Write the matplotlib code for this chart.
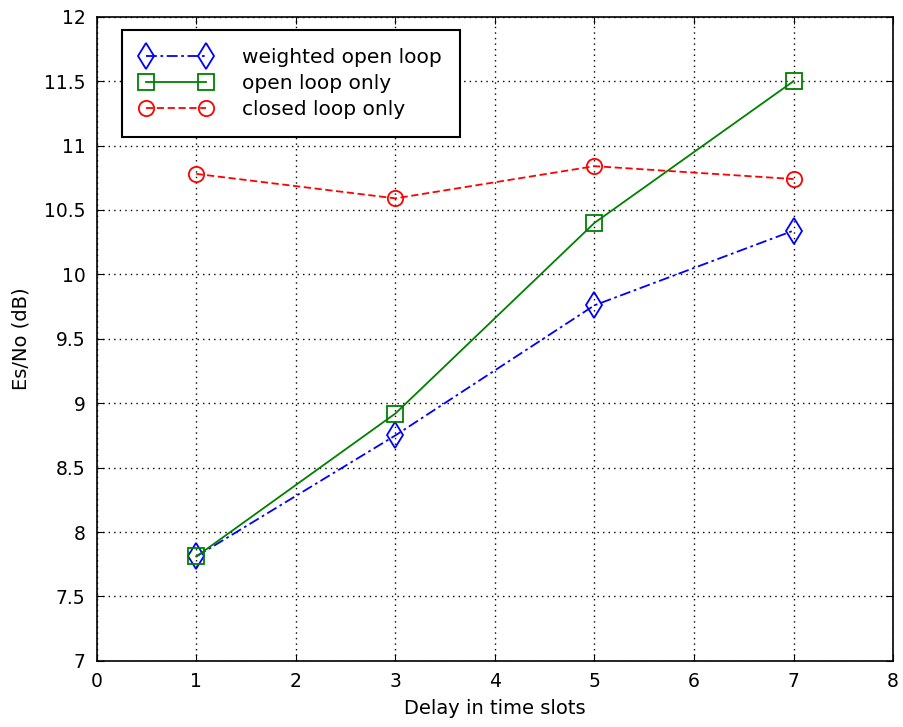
import numpy as np
import matplotlib.pyplot as plt

plt.rcParams['font.family'] = ['DejaVu Sans']

delay = [1, 3, 5, 7]
weighted_open = [7.81, 8.75, 9.76, 10.34]
open_only = [7.81, 8.92, 10.40, 11.50]
closed_only = [10.78, 10.59, 10.84, 10.74]

fig = plt.figure(figsize=(9.04, 7.27), dpi=100)
ax = fig.add_axes([0.107, 0.091, 0.881, 0.886])

ax.plot(delay, weighted_open, color='blue', linestyle='-.', linewidth=1.3,
        marker='d', markersize=13, markerfacecolor='none', markeredgewidth=1.3,
        label='weighted open loop', dashes=(6, 2, 1.5, 2))
ax.plot(delay, open_only, color='green', linestyle='-', linewidth=1.3,
        marker='s', markersize=11.5, markerfacecolor='none', markeredgewidth=1.3,
        label='open loop only')
ax.plot(delay, closed_only, color='red', linestyle='--', linewidth=1.3,
        marker='o', markersize=11, markerfacecolor='none', markeredgewidth=1.3,
        label='closed loop only', dashes=(4, 2))

ax.set_xlim(0, 8)
ax.set_ylim(7, 12)
ax.set_xticks(np.arange(0, 9, 1))
ax.set_yticks(np.arange(7, 12.01, 0.5))
ax.set_yticklabels(['7', '7.5', '8', '8.5', '9', '9.5', '10', '10.5', '11', '11.5', '12'])
ax.grid(True, color='black', linestyle=(0, (1, 3)), linewidth=1)
ax.tick_params(direction='in', labelsize=13.5, length=5, pad=8, top=True, right=True)
for s in ax.spines.values():
    s.set_linewidth(1.2)

ax.set_xlabel('Delay in time slots', fontsize=14, labelpad=6)
ax.set_ylabel('Es/No (dB)', fontsize=14, labelpad=10)

leg = ax.legend(loc='upper left', bbox_to_anchor=(0.032, 0.98), fontsize=14.5,
                fancybox=False, edgecolor='black', framealpha=1,
                handlelength=3.55, handletextpad=1.5, borderpad=0.9,
                labelspacing=0.35, numpoints=2, borderaxespad=0)
leg.get_frame().set_linewidth(1.5)

fig.savefig('out.png', dpi=100)
